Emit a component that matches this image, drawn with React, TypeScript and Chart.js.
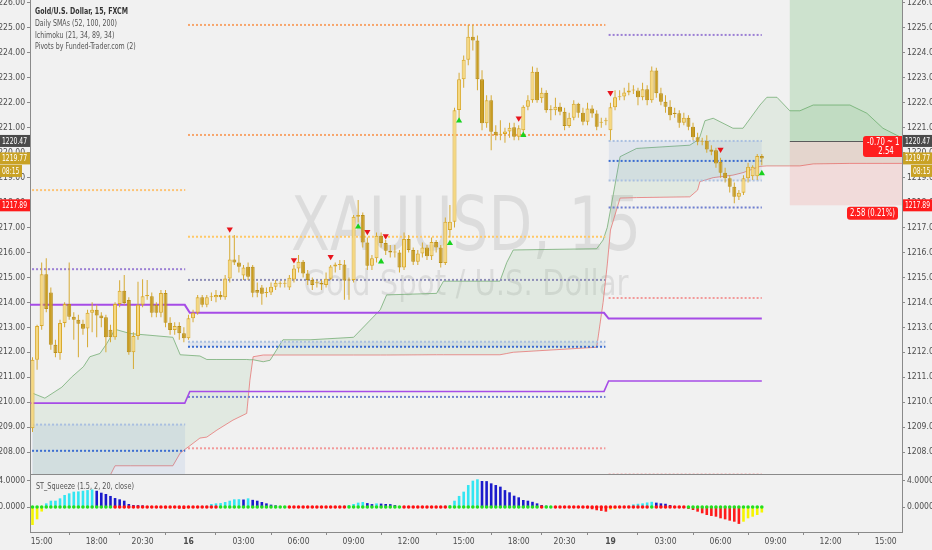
import React, { useEffect, useRef } from 'react';
import { Chart, registerables } from 'chart.js';
Chart.register(...registerables);

// ================= DATA =================
const opens = [
  1208.95, 1211.7, 1213.05, 1215.13, 1214.4, 1212.3, 1211.97, 1213.17, 1213.93, 1213.42,
  1213.3, 1213.14, 1212.95, 1213.58, 1213.7, 1213.47, 1213.4, 1212.9, 1212.6, 1213.93,
  1214.47, 1214.09, 1212.0, 1212.65, 1213.9, 1214.25, 1214.25, 1213.9, 1213.58, 1214.38,
  1213.18, 1212.89, 1213.05, 1212.76, 1212.56, 1213.36, 1213.58, 1214.2, 1213.9, 1214.2,
  1214.2, 1214.3, 1214.2, 1214.96, 1215.72, 1215.6, 1215.08, 1215.43, 1215.43, 1214.5,
  1214.6, 1214.38, 1214.4, 1214.63, 1214.75, 1214.75, 1214.6, 1214.92, 1215.36, 1215.63,
  1215.16, 1214.9, 1214.77, 1214.78, 1214.7, 1214.95, 1215.44, 1215.5, 1215.52, 1214.88,
  1214.9, 1217.43, 1217.5, 1216.4, 1215.47, 1215.77, 1216.67, 1216.38, 1216.07, 1216.0,
  1216.0, 1215.4, 1216.54, 1216.1, 1215.63, 1215.96, 1216.2, 1215.85, 1216.42, 1216.2,
  1215.58, 1216.9, 1217.23, 1221.71, 1222.94, 1223.72, 1224.65, 1224.5, 1222.94, 1221.18,
  1222.1, 1220.84, 1220.72, 1220.75, 1220.85, 1221.02, 1220.64, 1220.9, 1221.84, 1222.1,
  1223.24, 1222.18, 1222.4, 1221.74, 1221.7, 1221.84, 1221.64, 1221.07, 1221.4, 1221.96,
  1221.6, 1221.24, 1221.77, 1221.57, 1221.2, 1221.26, 1220.9, 1221.82, 1222.22, 1222.25,
  1222.41, 1222.49, 1222.49, 1222.22, 1222.54, 1222.1, 1223.29, 1222.38, 1222.04, 1221.84,
  1221.6, 1221.58, 1221.2, 1221.4, 1221.04, 1220.62, 1220.44, 1220.48, 1220.13, 1220.1,
  1219.64, 1219.2, 1218.97, 1218.63, 1218.23, 1218.39, 1218.97, 1219.06, 1219.06, 1219.87,
];
const highs = [
  1211.8, 1213.1, 1215.6, 1215.77, 1214.6, 1212.5, 1213.3, 1214.0, 1215.6, 1213.6,
  1213.5, 1213.3, 1213.7, 1214.0, 1213.9, 1213.6, 1213.5, 1213.1, 1214.0, 1214.89,
  1215.1, 1214.2, 1212.8, 1214.83, 1214.93, 1214.9, 1214.4, 1214.0, 1214.5, 1214.5,
  1213.4, 1213.2, 1213.2, 1213.0, 1213.5, 1213.7, 1214.3, 1214.3, 1214.3, 1214.4,
  1214.5, 1214.45, 1215.1, 1216.69, 1216.7, 1215.9, 1215.5, 1215.6, 1215.5, 1214.8,
  1214.7, 1214.6, 1214.8, 1214.9, 1214.85, 1214.9, 1215.1, 1215.5, 1215.9, 1215.7,
  1215.3, 1215.0, 1214.9, 1214.9, 1215.2, 1215.5, 1215.6, 1215.7, 1215.7, 1215.0,
  1217.5, 1218.1, 1217.6, 1216.6, 1215.9, 1216.8, 1216.8, 1216.5, 1216.3, 1216.3,
  1216.1, 1216.8, 1216.7, 1216.2, 1216.1, 1216.4, 1216.3, 1216.6, 1216.5, 1216.3,
  1217.4, 1217.9, 1221.8, 1223.2, 1223.9, 1225.12, 1225.12, 1224.7, 1223.3, 1222.3,
  1222.3, 1221.1, 1221.3, 1221.0, 1221.2, 1221.2, 1221.1, 1221.9, 1222.3, 1223.45,
  1223.4, 1222.6, 1222.5, 1221.9, 1222.2, 1222.0, 1221.8, 1221.6, 1222.1, 1222.0,
  1221.8, 1222.0, 1221.9, 1221.7, 1221.4, 1221.4, 1222.0, 1222.5, 1222.5, 1222.6,
  1222.8, 1222.7, 1222.6, 1222.8, 1222.7, 1223.45, 1223.4, 1222.6, 1222.3, 1222.1,
  1221.8, 1221.7, 1221.6, 1221.5, 1221.2, 1220.8, 1220.6, 1220.7, 1220.3, 1220.2,
  1219.8, 1219.4, 1219.1, 1218.8, 1218.5, 1219.1, 1219.6, 1219.5, 1219.95, 1219.95,
];
const lows = [
  1208.8, 1211.3, 1212.9, 1213.6, 1212.1, 1211.8, 1211.7, 1213.0, 1213.3, 1212.5,
  1211.8, 1212.7, 1212.2, 1212.8, 1212.6, 1213.0, 1212.0, 1212.4, 1212.5, 1213.8,
  1213.9, 1211.9, 1211.33, 1212.5, 1213.8, 1214.1, 1213.4, 1213.4, 1213.4, 1213.0,
  1212.7, 1212.7, 1212.5, 1212.4, 1212.5, 1213.2, 1213.5, 1213.8, 1213.8, 1214.05,
  1214.0, 1214.1, 1214.1, 1214.8, 1215.5, 1215.2, 1214.9, 1214.9, 1214.2, 1214.2,
  1213.9, 1214.2, 1214.3, 1214.5, 1214.6, 1214.6, 1214.5, 1214.8, 1215.2, 1215.0,
  1214.7, 1214.5, 1214.6, 1214.5, 1214.6, 1214.9, 1215.2, 1215.3, 1214.1, 1214.1,
  1214.8, 1217.2, 1216.2, 1215.3, 1215.3, 1215.6, 1216.2, 1215.9, 1215.8, 1215.8,
  1215.2, 1215.3, 1216.0, 1215.5, 1215.5, 1215.8, 1215.7, 1215.7, 1216.0, 1215.4,
  1215.5, 1216.6, 1217.0, 1221.3, 1222.6, 1223.5, 1224.1, 1222.5, 1220.9, 1221.0,
  1220.1, 1220.5, 1220.5, 1220.4, 1220.6, 1220.5, 1220.5, 1220.8, 1221.7, 1222.0,
  1222.0, 1222.0, 1221.6, 1221.3, 1221.5, 1221.5, 1220.9, 1221.0, 1221.3, 1221.4,
  1221.1, 1221.1, 1221.4, 1220.9, 1221.0, 1221.1, 1220.5, 1221.7, 1222.1, 1222.1,
  1222.3, 1222.35, 1221.9, 1222.1, 1221.9, 1222.0, 1222.2, 1221.9, 1221.6, 1221.3,
  1221.4, 1221.0, 1221.1, 1220.9, 1220.5, 1220.3, 1220.3, 1220.0, 1219.9, 1219.4,
  1219.0, 1218.8, 1218.4, 1217.97, 1218.1, 1218.3, 1218.8, 1218.9, 1218.9, 1219.5,
];
const closes = [
  1211.7, 1213.05, 1215.13, 1213.73, 1212.3, 1211.97, 1213.17, 1213.93, 1213.42, 1213.3,
  1213.14, 1212.94, 1213.58, 1213.7, 1213.47, 1213.36, 1212.6, 1212.6, 1213.93, 1214.47,
  1213.97, 1212.0, 1212.65, 1213.9, 1214.25, 1214.3, 1213.58, 1213.58, 1214.38, 1213.18,
  1212.89, 1213.05, 1212.76, 1212.56, 1213.36, 1213.58, 1214.2, 1213.9, 1214.2, 1214.22,
  1214.3, 1214.2, 1214.96, 1215.72, 1215.6, 1215.43, 1215.4, 1215.03, 1214.39, 1214.39,
  1214.35, 1214.42, 1214.63, 1214.79, 1214.75, 1214.77, 1214.99, 1215.36, 1215.63, 1215.16,
  1214.9, 1214.7, 1214.77, 1214.72, 1214.95, 1215.44, 1215.52, 1215.52, 1214.88, 1214.9,
  1217.43, 1217.5, 1216.4, 1215.47, 1215.77, 1216.67, 1216.38, 1216.07, 1216.0, 1216.02,
  1215.4, 1216.54, 1216.1, 1215.63, 1215.96, 1216.2, 1215.85, 1216.42, 1216.2, 1215.58,
  1217.23, 1217.23, 1221.7, 1222.94, 1223.72, 1224.65, 1224.5, 1222.94, 1221.18, 1222.1,
  1220.84, 1220.7, 1220.75, 1220.85, 1221.0, 1220.64, 1220.98, 1221.84, 1222.1, 1223.24,
  1222.1, 1222.4, 1221.7, 1221.7, 1221.84, 1221.64, 1221.07, 1221.4, 1221.96, 1221.6,
  1221.24, 1221.77, 1221.57, 1221.04, 1221.24, 1221.27, 1221.82, 1222.22, 1222.25, 1222.41,
  1222.49, 1222.5, 1222.22, 1222.54, 1222.1, 1223.29, 1222.38, 1222.04, 1221.84, 1221.5,
  1221.55, 1221.2, 1221.4, 1221.04, 1220.62, 1220.44, 1220.48, 1220.13, 1220.04, 1219.57,
  1219.2, 1218.97, 1218.63, 1218.23, 1218.39, 1218.97, 1219.44, 1219.44, 1219.87, 1219.77,
];

// time axis (bar index -> label)
const timeTickIndex = [2, 14, 24, 34, 46, 58, 70, 82, 94, 106, 116, 126, 138, 150, 162, 174, 186];
const timeTickLabel = ['15:00', '18:00', '20:30', '16', '03:00', '06:00', '09:00', '12:00', '15:00', '18:00', '20:30', '19', '03:00', '06:00', '09:00', '12:00', '15:00'];
const dayTickIndex = [34, 126];

// axis ranges
const PRICE_MIN = 1207.08;
const PRICE_MAX = 1226.12;
const IDX_MIN = -0.545;
const IDX_MAX = 189.56;
const SQ_MIN = -3.846;
const SQ_MAX = 4.923;
const sqTicks = [0, 4];

// signal triangles
const sellIdx = [43, 57, 65, 73, 77, 106, 126, 150];
const sellPrice = [1216.93, 1215.7, 1215.83, 1216.83, 1216.66, 1221.38, 1222.4, 1220.13];
const buyIdx = [71, 76, 91, 93, 107, 159];
const buyPrice = [1217.03, 1215.63, 1216.37, 1221.28, 1220.7, 1219.17];

// Ichimoku cloud
const cloudIdx = [0, 2.7, 6.4, 8.5, 11.1, 12.5, 14.7, 16.2, 18, 21.3, 30.6, 32.2, 36.5, 38, 40.2, 43.7, 46.7, 47.4, 48.1, 50.3, 51.8, 54.6, 60.5, 70, 75.8, 77.2, 88.1, 89.6, 101.9, 103.4, 104.8, 123, 124.4, 125.3, 126, 128.1, 131.7, 143.3, 145, 145.5, 146.6, 148.4, 152.7, 154.9, 158.6, 160.1, 162.3, 165.1, 167.3, 170.2, 178.2, 181.9, 185.4, 190];
const senkouA = [1210.36, 1210.16, 1210.6, 1211.0, 1211.42, 1211.82, 1211.95, 1212.35, 1212.92, 1212.75, 1212.6, 1211.9, 1211.85, 1211.71, 1211.71, 1211.71, 1211.71, 1211.7, 1211.7, 1211.62, 1211.68, 1212.5, 1212.5, 1212.6, 1213.7, 1214.3, 1214.36, 1214.85, 1214.85, 1215.6, 1216.1, 1216.15, 1216.5, 1217.0, 1217.7, 1219.84, 1220.17, 1220.3, 1220.5, 1220.64, 1221.28, 1221.38, 1220.98, 1220.98, 1221.91, 1222.22, 1222.22, 1221.68, 1221.68, 1221.91, 1221.91, 1221.58, 1220.98, 1220.55];
const senkouB = [1206.3, 1206.3, 1206.4, 1206.4, 1206.5, 1206.5, 1206.6, 1206.8, 1207.45, 1207.45, 1207.45, 1207.96, 1208.56, 1208.6, 1208.88, 1209.28, 1209.55, 1210.88, 1211.82, 1211.89, 1211.89, 1211.89, 1211.89, 1211.89, 1211.89, 1211.89, 1211.9, 1211.9, 1211.9, 1211.95, 1212.0, 1212.2, 1214.0, 1215.5, 1216.9, 1218.18, 1218.2, 1218.23, 1218.5, 1218.84, 1218.9, 1219.0, 1219.1, 1219.2, 1219.45, 1219.47, 1219.47, 1219.47, 1219.47, 1219.55, 1219.57, 1219.57, 1219.57, 1219.57];

// daily SMAs
const smaIdx = [-0.6, 33.2, 34.3, 124.6, 125.6, 159];
const sma52 = [1213.9, 1213.9, 1213.58, 1213.58, 1213.35, 1213.35];
const sma100 = [1209.96, 1209.96, 1210.43, 1210.43, 1210.85, 1210.85];

// daily pivots
const dayStart = [-0.1, 33.9, 125.6];
const dayEnd = [33.3, 124.9, 159];
const pivotsDay1 = [1218.5, 1215.33, 1209.1, 1208.05];
const pivotsDay2 = [1225.12, 1220.71, 1216.63, 1214.9, 1212.42, 1212.22, 1210.21, 1208.15];
const pivotsDay3 = [1224.72, 1220.47, 1219.67, 1218.88, 1217.8, 1214.17, 1207.1];
const bandTop = [1209.1, 1212.42, 1220.47];
const bandBottom = [1200, 1212.22, 1218.88];

// squeeze momentum
const squeeze = [
  -2.77, -1.9, -0.7, 0.56, 0.97, 0.97, 1.33, 1.85, 2.1, 2.36,
  2.4, 2.5, 2.6, 2.7, 2.5, 2.2, 2.0, 1.7, 1.38, 1.18,
  0.97, 0.46, 0.3, 0.28, 0.25, 0.1, 0.05, -0.1, -0.15, -0.2,
  -0.2, -0.15, -0.25, -0.3, -0.2, -0.15, -0.1, 0.05, 0.2, 0.46,
  0.56, 0.6, 0.77, 0.97, 1.18, 1.2, 1.15, 1.33, 1.1, 0.97,
  0.77, 0.56, 0.36, 0.25, 0.12, 0.05, -0.05, -0.1, -0.1, -0.05,
  -0.1, -0.15, -0.1, -0.1, -0.05, 0.05, 0.1, 0.15, 0.2, 0.3,
  0.46, 0.67, 0.77, 0.6, 0.45, 0.55, 0.52, 0.46, 0.44, 0.3,
  0.15, 0.1, 0.05, -0.05, -0.1, -0.08, -0.1, -0.05, 0.05, 0.1,
  0.2, 0.3, 0.97, 1.7, 2.36, 3.38, 4.05, 4.26, 4.0, 3.98,
  3.64, 3.38, 3.13, 2.6, 2.26, 1.74, 1.49, 1.08, 0.97, 0.8,
  0.56, 0.3, 0.2, 0.1, 0.05, -0.05, -0.1, -0.1, -0.05, -0.1,
  -0.15, -0.2, -0.35, -0.5, -0.6, -0.72, -0.4, -0.25, -0.1, 0.05,
  0.2, 0.4, 0.5, 0.56, 0.7, 0.8, 0.67, 0.56, 0.5, 0.3,
  0.15, 0.05, -0.15, -0.3, -0.46, -0.72, -0.97, -1.23, -1.38, -1.49,
  -1.74, -1.9, -2.1, -2.26, -2.6, -2.26, -1.74, -1.49, -1.23, -0.85,
];
const squeezeState = [
  'gggggggggg', 'ggggggggrr', 'rrrrrrrrrr', 'rrrrrrrrrr', 'rggggggggg',
  'ggggggrrrr', 'rrrrrrrrrg', 'gggggggggg', 'grrrrrrrrr', 'rggggggggg',
  'gggggggggg', 'grggrrrrrr', 'rrrrrrrrrr', 'rrrrrgrrrr', 'rrrggggggg', 'gggggggggg',
].join('');

// position tool, price tags
const POS_START = 165.1;
const POS_ENTRY = 1220.47;
const POS_TARGET = 1227;
const POS_STOP = 1217.89;
const LAST_PRICE = 1219.77;
const LAST_TIME = '08:15';
const posLabelTop = ['-0.70 ~ 1', '2.54'];
const posLabelStop = '2.58 (0.21%)';

const legendLines = ['Gold/U.S. Dollar, 15, FXCM', 'Daily SMAs (52, 100, 200)', 'Ichimoku (21, 34, 89, 34)', 'Pivots by Funded-Trader.com (2)'];
const squeezeTitle = 'ST_Squeeze (1.5, 2, 20, close)';
const watermark1 = 'XAUUSD, 15';
const watermark2 = 'Gold Spot / U.S. Dollar';

// ================= STYLE =================
const FONT = '"DejaVu Sans Condensed", "Liberation Sans Narrow", "Liberation Sans", Arial, sans-serif';
const BG = '#f1f1f1';
const AXIS_LINE = '#8a8a8a';
const AXIS_TEXT = '#4d4d4d';
const UP_FILL = '#f6d880';
const UP_BORDER = '#d9a92b';
const DN_FILL = '#c99d22';
const DN_BORDER = '#b98f1b';
const WICK = '#d6aa34';
const SMA_COLOR = '#a64ce6';
const pivotColorsDay1 = ['#fdc374', '#9b7fd4', '#a9bfe0', '#3a6cd0'];
const pivotColorsDay2 = ['#f7a56c', '#f7a56c', '#ffc866', '#8f8fb8', '#a9bfe0', '#3a6cd0', '#6f7fcf', '#f29a9a'];
const pivotColorsDay3 = ['#9b7fd4', '#a9bfe0', '#3a6cd0', '#a9bfe0', '#6f7fcf', '#f29a9a', '#f0a8a8'];
const BAND_FILL = 'rgba(80,130,210,0.10)';
// target text widths (px) used to condense canvas-drawn labels
const W_LEGEND_TITLE = 93;
const W_SQ_TITLE = 98;
const W_WM1 = 350;
const W_WM2 = 325;
const W_STOP_LABEL = 45;
const W_TAG = 25;

function histColor(v: number, prev: number | undefined) {
  if (v >= 0) return prev === undefined || v >= prev ? '#33e6f2' : '#1a1acc';
  return prev !== undefined && v < prev ? '#ff1a1a' : '#f5f500';
}

const axisFont = { family: FONT, size: 8.5 };

function zeroPad(s: any) {
  s.paddingTop = 0; s.paddingBottom = 0; s.paddingLeft = 0; s.paddingRight = 0;
}

function yAxis(position: string, min: number, max: number, extra: any) {
  return {
    position, min, max,
    afterFit: (s: any) => { s.width = 30; zeroPad(s); },
    ticks: { color: AXIS_TEXT, font: axisFont, padding: 2, maxTicksLimit: 100, includeBounds: false, ...extra.ticks },
    grid: { drawOnChartArea: false, drawTicks: true, tickLength: 3, color: AXIS_LINE },
    border: { display: true, color: AXIS_LINE, width: 1 },
    afterBuildTicks: extra.afterBuildTicks,
  };
}

function scaleFor(ctx: any, text: string, font: string, target: number) {
  ctx.font = font;
  const w = ctx.measureText(text).width;
  return w > 0 ? Math.min(1, target / w) : 1;
}

function drawText(ctx: any, text: string, x: number, y: number, font: string, sx: number, align: string, color: string) {
  ctx.save();
  ctx.font = font;
  ctx.fillStyle = color;
  ctx.textAlign = align;
  ctx.textBaseline = 'middle';
  ctx.translate(x, y);
  ctx.scale(sx, 1);
  ctx.fillText(text, 0, 0);
  ctx.restore();
}

function tag(ctx: any, x: number, y: number, w: number, text: string, bg: string) {
  ctx.fillStyle = bg;
  ctx.fillRect(x, y - 6, w, 12);
  const font = `8.5px ${FONT}`;
  const sx = scaleFor(ctx, '1220.47', font, W_TAG);
  drawText(ctx, text, x + 2, y + 0.5, font, sx, 'left', '#ffffff');
}

const mainPlugin = {
  id: 'mainDeco',
  beforeDatasetsDraw(chart: any) {
    const { ctx, chartArea: a } = chart;
    ctx.save();
    ctx.beginPath();
    ctx.rect(a.left, a.top, a.width, a.height);
    ctx.clip();
    const cx = (a.left + a.right) / 2;
    const f1 = `74px ${FONT}`;
    const f2 = `36px ${FONT}`;
    ctx.textBaseline = 'alphabetic';
    const s1 = scaleFor(ctx, watermark1, f1, W_WM1);
    const s2 = scaleFor(ctx, watermark2, f2, W_WM2);
    ctx.fillStyle = 'rgba(0,0,0,0.085)';
    ctx.textAlign = 'center';
    ctx.save(); ctx.font = f1; ctx.translate(cx, 250); ctx.scale(s1, 1); ctx.fillText(watermark1, 0, 0); ctx.restore();
    ctx.save(); ctx.font = f2; ctx.translate(cx, 295); ctx.scale(s2, 1); ctx.fillText(watermark2, 0, 0); ctx.restore();
    ctx.restore();
  },
  afterDatasetsDraw(chart: any) {
    const { ctx, chartArea: a, scales } = chart;
    const xs = scales.x, ys = scales.y;
    ctx.save();
    ctx.beginPath();
    ctx.rect(a.left, a.top, a.width, a.height);
    ctx.clip();
    const x0 = xs.getPixelForValue(POS_START);
    const yE = ys.getPixelForValue(POS_ENTRY);
    const yT = ys.getPixelForValue(POS_TARGET);
    const yS = ys.getPixelForValue(POS_STOP);
    ctx.fillStyle = 'rgba(76,175,80,0.22)';
    ctx.fillRect(x0, yT, a.right - x0, yE - yT);
    ctx.fillStyle = 'rgba(244,67,54,0.12)';
    ctx.fillRect(x0, yE, a.right - x0, yS - yE);
    ctx.strokeStyle = '#5a5a5a';
    ctx.lineWidth = 1;
    ctx.beginPath();
    ctx.moveTo(x0, Math.round(yE) + 0.5);
    ctx.lineTo(a.right, Math.round(yE) + 0.5);
    ctx.stroke();
    // position labels
    const lf = `10px ${FONT}`;
    const ls = scaleFor(ctx, posLabelStop, lf, W_STOP_LABEL);
    ctx.fillStyle = '#ff1f1f';
    ctx.beginPath();
    ctx.roundRect(a.right - 39, yE - 5, 48, 21, 3);
    ctx.fill();
    drawText(ctx, posLabelTop[0], a.right - 35, yE + 1, lf, ls, 'left', '#ffffff');
    drawText(ctx, posLabelTop[1], a.right - 16, yE + 10.5, lf, ls, 'center', '#ffffff');
    ctx.fillStyle = '#ff1f1f';
    ctx.beginPath();
    ctx.roundRect(a.right - 55, yS + 1.5, 51, 13, 3);
    ctx.fill();
    drawText(ctx, posLabelStop, a.right - 29.5, yS + 8.5, lf, ls, 'center', '#ffffff');
    ctx.restore();

    // legend
    const tf = `bold 9px ${FONT}`;
    const rf = `9px ${FONT}`;
    const gs = scaleFor(ctx, legendLines[0], tf, W_LEGEND_TITLE);
    legendLines.forEach((t, k) => {
      drawText(ctx, t, a.left + 5, 12 + k * 11.7, k === 0 ? tf : rf, gs, 'left', k === 0 ? '#333333' : '#555555');
    });
  },
  afterDraw(chart: any) {
    const { ctx, chartArea: a, scales } = chart;
    const ys = scales.y;
    ctx.save();
    ctx.strokeStyle = AXIS_LINE;
    ctx.lineWidth = 1;
    ctx.beginPath();
    ctx.moveTo(a.left, a.bottom - 0.5);
    ctx.lineTo(a.right, a.bottom - 0.5);
    ctx.stroke();
    const yE = ys.getPixelForValue(POS_ENTRY);
    const yL = ys.getPixelForValue(LAST_PRICE);
    const yS = ys.getPixelForValue(POS_STOP);
    // right side
    tag(ctx, a.right + 1, yE, 30, POS_ENTRY.toFixed(2), '#4a4a4a');
    tag(ctx, a.right + 1, yL, 30, LAST_PRICE.toFixed(2), '#c9a225');
    tag(ctx, a.right + 9, yL + 12.5, 22, LAST_TIME, '#c9a225');
    tag(ctx, a.right + 1, yS, 30, POS_STOP.toFixed(2), '#ff1a1a');
    // left side
    tag(ctx, 0, yE, 30, POS_ENTRY.toFixed(2), '#4a4a4a');
    tag(ctx, 0, yL, 30, LAST_PRICE.toFixed(2), '#c9a225');
    tag(ctx, 0, yL + 12.5, 22, LAST_TIME, '#c9a225');
    tag(ctx, 0, yS, 30, POS_STOP.toFixed(2), '#ff1a1a');
    ctx.restore();
  },
};

const sqPlugin = {
  id: 'sqDeco',
  afterDraw(chart: any) {
    const { ctx, chartArea: a } = chart;
    const f = `9px ${FONT}`;
    const s = scaleFor(ctx, squeezeTitle, f, W_SQ_TITLE);
    drawText(ctx, squeezeTitle, a.left + 6, a.top + 12, f, s, 'left', '#555555');
  },
};

function lineDs(points: any[], color: string, extra: any = {}) {
  return {
    type: 'line', data: points, borderColor: color, borderWidth: 1, pointRadius: 0,
    tension: 0, fill: false, order: 8, ...extra,
  };
}

function mainConfig(): any {
  const datasets: any[] = [];
  // cloud
  datasets.push(lineDs(cloudIdx.map((x, k) => ({ x, y: senkouA[k] })), 'rgba(110,170,110,0.75)', {
    order: 20,
    fill: { target: '+1', above: 'rgba(90,170,90,0.10)', below: 'rgba(235,90,90,0.10)' },
  }));
  datasets.push(lineDs(cloudIdx.map((x, k) => ({ x, y: senkouB[k] })), 'rgba(232,120,120,0.8)', { order: 20 }));
  // pivot bands
  bandTop.forEach((top, d) => {
    datasets.push(lineDs([{ x: dayStart[d], y: top }, { x: dayEnd[d], y: top }], 'rgba(0,0,0,0)', {
      order: 15, borderWidth: 0, fill: { value: bandBottom[d] }, backgroundColor: BAND_FILL,
    }));
  });
  // pivots
  const pivotDays = [pivotsDay1, pivotsDay2, pivotsDay3];
  const pivotCols = [pivotColorsDay1, pivotColorsDay2, pivotColorsDay3];
  pivotDays.forEach((levels, d) => {
    levels.forEach((lv, k) => {
      datasets.push(lineDs([{ x: dayStart[d], y: lv }, { x: dayEnd[d], y: lv }], pivotCols[d][k], {
        order: 10, borderWidth: 2, borderDash: [2, 2], borderCapStyle: 'butt',
      }));
    });
  });
  // SMAs
  datasets.push(lineDs(smaIdx.map((x, k) => ({ x, y: sma52[k] })), SMA_COLOR, { order: 9, borderWidth: 2 }));
  datasets.push(lineDs(smaIdx.map((x, k) => ({ x, y: sma100[k] })), SMA_COLOR, { order: 9, borderWidth: 1.6 }));
  // wicks
  datasets.push({
    type: 'bar', order: 4, grouped: false, barThickness: 1, inflateAmount: 0,
    data: opens.map((_, i) => ({ x: i, y: [lows[i], highs[i]] })),
    backgroundColor: WICK, borderWidth: 0,
  });
  // bodies
  datasets.push({
    type: 'bar', order: 3, grouped: false, barThickness: 4, inflateAmount: 0, minBarLength: 1,
    data: opens.map((o, i) => ({ x: i, y: [o, closes[i]] })),
    backgroundColor: opens.map((o, i) => (closes[i] >= o ? UP_FILL : DN_FILL)),
    borderColor: opens.map((o, i) => (closes[i] >= o ? UP_BORDER : DN_BORDER)),
    borderWidth: 1, borderSkipped: false,
  });
  // triangles
  datasets.push({
    type: 'scatter', order: 1, data: sellIdx.map((x, k) => ({ x, y: sellPrice[k] })),
    pointStyle: 'triangle', rotation: 180, pointRadius: 3.6, backgroundColor: '#e8141c', borderWidth: 0,
  });
  datasets.push({
    type: 'scatter', order: 1, data: buyIdx.map((x, k) => ({ x, y: buyPrice[k] })),
    pointStyle: 'triangle', rotation: 0, pointRadius: 3.6, backgroundColor: '#19d21e', borderWidth: 0,
  });

  return {
    type: 'bar',
    data: { datasets },
    options: {
      animation: false, responsive: false, maintainAspectRatio: false, devicePixelRatio: 1,
      events: [],
      layout: { padding: 0, autoPadding: false },
      plugins: { legend: { display: false }, tooltip: { enabled: false } },
      scales: {
        x: { type: 'linear', min: IDX_MIN, max: IDX_MAX, display: false, offset: false },
        y: yAxis('left', PRICE_MIN, PRICE_MAX, { ticks: { stepSize: 1, callback: (v: any) => Number(v).toFixed(2) } }),
        yR: yAxis('right', PRICE_MIN, PRICE_MAX, { ticks: { stepSize: 1, callback: (v: any) => Number(v).toFixed(2) } }),
      },
    },
    plugins: [mainPlugin],
  };
}

function sqConfig(): any {
  const sqAxisExtra = {
    ticks: { callback: (v: any) => Number(v).toFixed(4) },
    afterBuildTicks: (s: any) => { s.ticks = sqTicks.map((value) => ({ value })); },
  };
  return {
    type: 'bar',
    data: {
      datasets: [
        {
          type: 'scatter', order: 1,
          data: squeeze.map((_, i) => ({ x: i, y: 0 })),
          pointRadius: 1.8, borderWidth: 0,
          backgroundColor: squeeze.map((_, i) => (squeezeState[i] === 'r' ? '#ff1010' : '#22e01e')),
        },
        {
          type: 'bar', order: 2, grouped: false, barThickness: 2.6, inflateAmount: 0,
          data: squeeze.map((v, i) => ({ x: i, y: v })),
          backgroundColor: squeeze.map((v, i) => histColor(v, i > 0 ? squeeze[i - 1] : undefined)),
          borderWidth: 0,
        },
      ],
    },
    options: {
      animation: false, responsive: false, maintainAspectRatio: false, devicePixelRatio: 1,
      events: [],
      layout: { padding: 0, autoPadding: false },
      plugins: { legend: { display: false }, tooltip: { enabled: false } },
      scales: {
        x: {
          type: 'linear', min: IDX_MIN, max: IDX_MAX, offset: false,
          afterFit: (s: any) => { s.height = 18; zeroPad(s); },
          afterBuildTicks: (s: any) => { s.ticks = timeTickIndex.map((value) => ({ value })); },
          ticks: {
            autoSkip: false, maxRotation: 0, padding: 2, color: AXIS_TEXT,
            font: (c: any) => ({ family: FONT, size: 8.5, weight: c.tick && dayTickIndex.includes(c.tick.value) ? 'bold' : 'normal' }),
            callback: (v: any) => { const k = timeTickIndex.indexOf(v); return k >= 0 ? timeTickLabel[k] : ''; },
          },
          grid: { drawOnChartArea: false, drawTicks: true, tickLength: 3, color: AXIS_LINE },
          border: { display: true, color: AXIS_LINE, width: 1 },
        },
        y: yAxis('left', SQ_MIN, SQ_MAX, sqAxisExtra),
        yR: yAxis('right', SQ_MIN, SQ_MAX, sqAxisExtra),
      },
    },
    plugins: [sqPlugin],
  };
}

export default function App() {
  const mainRef = useRef<HTMLCanvasElement>(null);
  const sqRef = useRef<HTMLCanvasElement>(null);
  useEffect(() => {
    const main = new Chart(mainRef.current as any, mainConfig());
    const sq = new Chart(sqRef.current as any, sqConfig());
    return () => { main.destroy(); sq.destroy(); };
  }, []);
  return (
    <div style={{ position: 'absolute', left: 0, top: 0, width: 932, height: 550, background: BG, overflow: 'hidden' }}>
      <canvas ref={mainRef} width={932} height={475} style={{ position: 'absolute', left: 0, top: 0 }} />
      <canvas ref={sqRef} width={932} height={75} style={{ position: 'absolute', left: 0, top: 475 }} />
    </div>
  );
}
